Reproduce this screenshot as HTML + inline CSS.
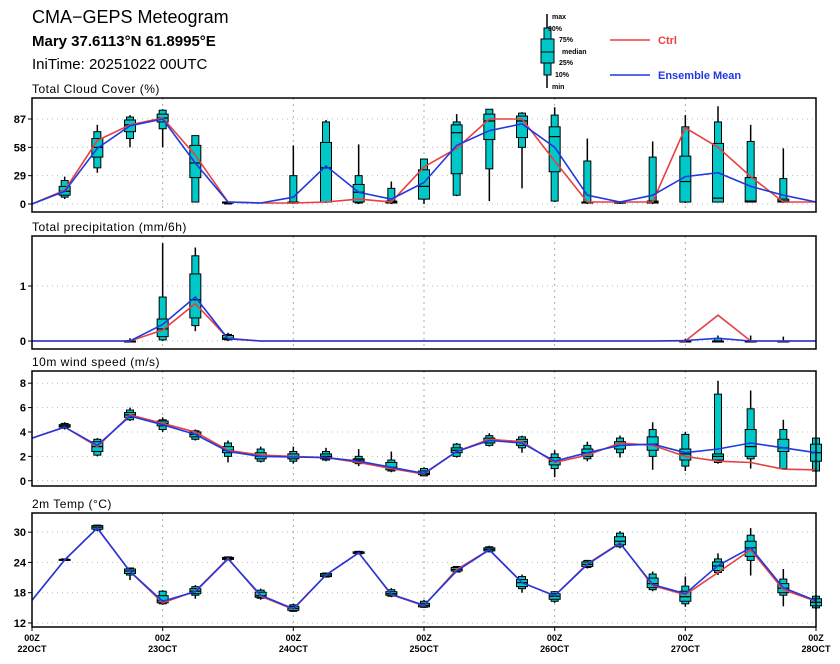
<!DOCTYPE html>
<html><head><meta charset="utf-8">
<style>
html,body{margin:0;padding:0;background:#fff;}
svg{display:block;font-family:"Liberation Sans",sans-serif;}
.tk{font-size:11px;font-weight:bold;fill:#000;}
.xl{font-size:9px;font-weight:bold;fill:#000;}
.pt{font-size:12px;fill:#000;letter-spacing:0.5px;}
</style></head>
<body>
<svg id="chart" width="840" height="664" viewBox="0 0 840 664" xmlns="http://www.w3.org/2000/svg">
<text x="32" y="23" font-size="18">CMA−GEPS Meteogram</text>
<text x="32" y="46" font-size="15" font-weight="bold">Mary 37.6113°N 61.8995°E</text>
<text x="32" y="69" font-size="15">IniTime: 20251022 00UTC</text>
<g>
 <line x1="547" y1="14" x2="547" y2="88" stroke="#000" stroke-width="1.5"/>
 <rect x="544" y="28" width="7" height="47" fill="#00c8c8" stroke="#000"/>
 <rect x="541" y="39" width="13" height="24" fill="#00c8c8" stroke="#000"/>
 <line x1="541" y1="52" x2="554" y2="52" stroke="#000"/>
 <text x="552" y="19" font-size="7" font-weight="bold">max</text>
 <text x="548" y="31" font-size="7" font-weight="bold">90%</text>
 <text x="559" y="42" font-size="7" font-weight="bold">75%</text>
 <text x="562" y="54" font-size="7" font-weight="bold">median</text>
 <text x="559" y="65" font-size="7" font-weight="bold">25%</text>
 <text x="555" y="77" font-size="7" font-weight="bold">10%</text>
 <text x="552" y="89" font-size="7" font-weight="bold">min</text>
 <line x1="610" y1="40" x2="650" y2="40" stroke="#e84040" stroke-width="1.5"/>
 <text x="658" y="44" font-size="11" font-weight="bold" fill="#e84040">Ctrl</text>
 <line x1="610" y1="75" x2="650" y2="75" stroke="#2038e0" stroke-width="1.5"/>
 <text x="658" y="79" font-size="11" font-weight="bold" fill="#2038e0">Ensemble Mean</text>
</g>
</svg>
<script>
const dayLabels = ["22OCT","23OCT","24OCT","25OCT","26OCT","27OCT","28OCT"];
// cloud cover
const cloudCtrl = [0,14,65,81,88,50,2,1,1,2,5,2,38,57,87,87,44,2,2,2,78,58,28,2,2];
const cloudMean = [0,13,57,80,87,42,2,1,7,39,12,5,22,60,75,82,58,9,2,9,28,32,18,9,2];
const cloudBoxes = [null,[5,7,9,13,18,24,28],[32,37,48,58,67,74,81],[58,67,74,81,86,89,91],[58,77,84,88,92,96,97],[2,2,27,42,60,70,70],[0,0,1,2,2,2,2],null,[0,1,1,1,2,29,60],[1,2,2,37,63,84,86],[0,1,2,12,20,29,61],[0,1,1,2,3,16,23],[0,5,5,18,35,46,46],[8,9,31,73,81,84,92],[3,36,66,85,92,97,97],[16,58,68,85,90,93,94],[2,3,33,69,79,91,99],[0,1,2,2,2,44,67],[0,1,1,1,2,2,3],[0,1,1,2,3,48,64],[1,2,2,23,49,79,91],[2,2,2,6,62,84,100],[2,2,2,3,27,64,81],[1,2,2,3,5,26,57],null];
// precipitation
const precCtrl = [0,0,0,0,0.2,0.68,0.05,0,0,0,0,0,0,0,0,0,0,0,0,0,0,0.47,0,0,0];
const precMean = [0,0,0,0,0.3,0.8,0.04,0,0,0,0,0,0,0,0,0,0,0,0,0,0.01,0.05,0,0,0];
const precBoxes = [null,null,null,[0,0,0,0,0,0.01,0.05],[0,0.02,0.08,0.22,0.4,0.8,1.78],[0.18,0.28,0.42,0.75,1.22,1.55,1.7],[0,0.02,0.03,0.05,0.1,0.12,0.15],null,null,null,null,null,null,null,null,null,null,null,null,null,[0,0,0,0,0,0.01,0.04],[0,0,0,0,0,0.05,0.1],[0,0,0,0,0,0,0.1],[0,0,0,0,0,0,0.08],null];
// wind
const windCtrl = [3.5,4.4,2.8,5.4,4.7,4.0,2.5,2.1,2.0,1.9,1.5,1.0,0.55,2.4,3.4,3.2,1.5,2.1,3.1,2.9,2.0,1.6,1.5,0.95,0.9];
const windMean = [3.5,4.4,2.9,5.3,4.6,3.8,2.4,2.0,1.95,1.9,1.6,1.1,0.6,2.4,3.3,3.1,1.6,2.3,2.9,3.0,2.3,2.6,3.1,2.7,2.3];
const windBoxes = [null,[4.2,4.3,4.4,4.5,4.6,4.7,4.8],[2.0,2.1,2.4,2.8,3.2,3.4,3.5],[4.9,5.0,5.2,5.4,5.6,5.8,6.0],[4.0,4.2,4.5,4.7,4.9,5.0,5.2],[3.3,3.4,3.6,3.8,4.0,4.1,4.2],[1.5,2.0,2.3,2.5,2.8,3.1,3.3],[1.5,1.6,1.8,2.0,2.3,2.6,2.8],[1.4,1.6,1.8,2.0,2.2,2.4,2.8],[1.6,1.7,1.8,2.0,2.2,2.4,2.7],[1.2,1.4,1.5,1.7,1.8,2.0,2.6],[0.7,0.8,0.9,1.1,1.5,1.7,2.4],[0.4,0.4,0.5,0.6,0.8,1.0,1.1],[1.9,2.0,2.3,2.5,2.7,3.0,3.1],[2.8,2.9,3.1,3.3,3.5,3.7,3.9],[2.3,2.7,2.9,3.2,3.4,3.6,3.7],[0.3,1.0,1.3,1.6,1.9,2.2,2.5],[1.6,1.8,2.0,2.3,2.6,2.9,3.2],[1.9,2.3,2.6,2.9,3.2,3.5,3.7],[0.9,2.0,2.5,3.0,3.6,4.2,4.8],[0.8,1.2,1.7,2.2,2.6,3.8,4.0],[1.4,1.5,1.7,2.0,2.2,7.1,8.2],[1.0,1.8,2.0,2.8,4.2,5.9,7.4],[0.9,1.0,2.4,2.7,3.4,4.2,5.0],[0.7,0.8,1.6,2.3,3.0,3.5,3.5]];
// temperature
const tempCtrl = [16.5,24.5,30.8,22.2,16.0,18.3,24.8,17.3,14.7,21.5,25.9,17.6,15.4,22.6,26.5,20.0,17.4,23.7,27.9,19.4,17.6,22.0,26.5,18.6,16.3];
const tempMean = [16.5,24.5,30.8,22.2,16.3,18.2,24.7,17.5,14.8,21.5,25.9,17.7,15.5,22.3,26.5,20.0,17.4,23.6,27.8,19.6,17.8,23.4,26.9,19.0,16.4];
const tempBoxes = [null,[24.4,24.4,24.5,24.5,24.6,24.7,24.7],[30.2,30.4,30.6,31.0,31.3,31.4,31.5],[20.5,21.5,21.8,22.3,22.7,22.9,23.0],[15.6,15.8,16.0,16.4,17.4,18.3,18.5],[16.8,17.5,17.8,18.3,18.8,19.2,19.5],[24.4,24.5,24.6,24.8,25.0,25.1,25.2],[16.6,16.9,17.1,17.4,18.1,18.5,18.8],[14.2,14.3,14.5,14.9,15.3,15.6,15.8],[21.0,21.1,21.2,21.5,21.8,21.9,22.0],[25.6,25.7,25.8,25.9,26.1,26.2,26.3],[17.1,17.3,17.5,17.8,18.2,18.6,18.9],[15.0,15.1,15.2,15.5,15.9,16.3,16.6],[22.0,22.1,22.3,22.6,23.0,23.2,23.3],[26.0,26.1,26.3,26.6,26.9,27.1,27.3],[18.0,18.8,19.2,20.0,20.6,21.2,21.6],[16.0,16.3,16.7,17.3,17.8,18.2,18.3],[22.8,23.0,23.2,23.6,24.1,24.4,24.5],[26.8,27.1,27.5,28.2,29.1,29.8,30.2],[18.3,18.6,19.0,19.8,20.9,21.7,22.2],[15.2,15.8,16.3,17.2,18.3,19.3,21.2],[21.5,22.0,22.4,23.3,24.1,24.7,25.8],[21.4,24.4,25.2,26.9,28.2,29.4,30.8],[15.3,17.5,18.0,18.9,19.8,20.7,22.7],[14.7,15.0,15.4,16.1,16.8,17.3,17.5]];
const cloudTicks = [0,29,58,87], precTicks = [0,1], windTicks = [0,2,4,6,8], tempTicks = [12,18,24,30];

const NS = "http://www.w3.org/2000/svg";
const svg = document.getElementById('chart');
const X0 = 32, X1 = 816, NSTEP = 24;
function xs(i){ return X0 + (X1 - X0) * i / NSTEP; }
function mk(tag, attrs, parent){ const e = document.createElementNS(NS, tag); for (const k in attrs) e.setAttribute(k, attrs[k]); (parent||svg).appendChild(e); return e; }

function panel(key, title, top, bottom, vmin, vmax, ticks, ctrl, mean, boxes){
  const g = mk('g', {});
  
  
  const ys = v => bottom - (v - vmin) / (vmax - vmin) * (bottom - top);
  const t = mk('text', {x: 32, y: top - 5, class: 'pt'}, g); t.textContent = title;
  
  
  for (let d = 1; d < 6; d++) mk('line', {x1: xs(d*4), x2: xs(d*4), y1: top, y2: bottom, stroke: '#aaa', 'stroke-dasharray': '2,4'}, g);
  ticks.forEach(v => {
    const y = ys(v);
    mk('line', {x1: X0, x2: X1, y1: y, y2: y, stroke: '#bbb', 'stroke-dasharray': '1,4'}, g);
    mk('line', {x1: X0 - 4, x2: X0, y1: y, y2: y, stroke: '#000'}, g);
    const lb = mk('text', {x: X0 - 6, y: y + 4, 'text-anchor': 'end', class: 'tk'}, g); lb.textContent = v;
    
    
  });
  boxes.forEach((b, i) => {
    if (!b) return;
    const x = xs(i);
    const bg = mk('g', {}, g);
    
    
    mk('line', {x1: x, x2: x, y1: ys(b[0]), y2: ys(b[6]), stroke: '#000', 'stroke-width': 1.5}, bg);
    mk('rect', {x: x - 3.5, y: ys(b[5]), width: 7, height: Math.max(1, ys(b[1]) - ys(b[5])), fill: '#00c8c8', stroke: '#000'}, bg);
    mk('rect', {x: x - 5.5, y: ys(b[4]), width: 11, height: Math.max(1, ys(b[2]) - ys(b[4])), fill: '#00c8c8', stroke: '#000'}, bg);
    mk('line', {x1: x - 5.5, x2: x + 5.5, y1: ys(b[3]), y2: ys(b[3]), stroke: '#000', 'stroke-width': 1.2}, bg);
  });
  const pl = arr => arr.map((v, i) => xs(i).toFixed(1) + ',' + ys(v).toFixed(1)).join(' ');
  const c = mk('polyline', {points: pl(ctrl), fill: 'none', stroke: '#e84040', 'stroke-width': 1.6}, g);
  
  
  const m = mk('polyline', {points: pl(mean), fill: 'none', stroke: '#2038e0', 'stroke-width': 1.6}, g);
  
  
  mk('rect', {x: X0, y: top, width: X1 - X0, height: bottom - top, fill: 'none', stroke: '#000', 'stroke-width': 1.5}, g);
}
panel('cloud', 'Total Cloud Cover (%)', 98, 212, -8.2, 108.5, cloudTicks, cloudCtrl, cloudMean, cloudBoxes);
panel('precip', 'Total precipitation (mm/6h)', 236, 349, -0.145, 1.91, precTicks, precCtrl, precMean, precBoxes);
panel('wind', '10m wind speed (m/s)', 371, 486, -0.43, 9.0, windTicks, windCtrl, windMean, windBoxes);
panel('temp', '2m Temp (°C)', 513, 627, 11.2, 33.8, tempTicks, tempCtrl, tempMean, tempBoxes);

dayLabels.forEach((d, k) => {
  const x = xs(k*4);
  mk('line', {x1: x, x2: x, y1: 627, y2: 631, stroke: '#000'});
  const a = mk('text', {x: x, y: 641, 'text-anchor': 'middle', class: 'xl'}); a.textContent = '00Z';
  
  
  const b = mk('text', {x: x, y: 652, 'text-anchor': 'middle', class: 'xl'}); b.textContent = d;
  
  
});
</script>
</body></html>
